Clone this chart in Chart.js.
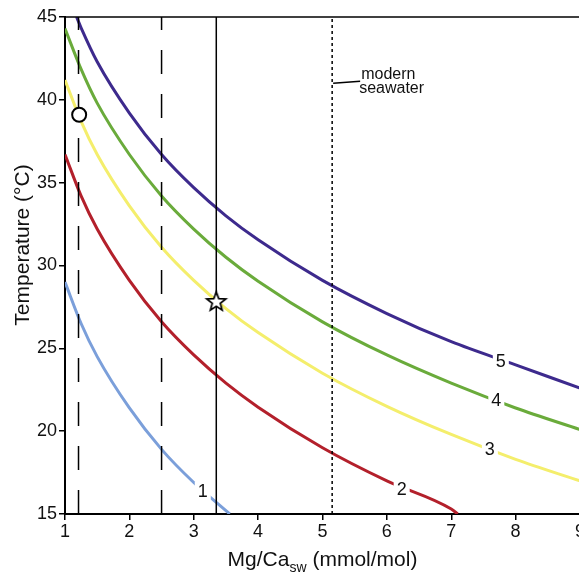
<!DOCTYPE html>
<html>
<head>
<meta charset="utf-8">
<script src="https://cdn.jsdelivr.net/npm/chart.js@4/dist/chart.umd.min.js"></script>
<style>
html,body{margin:0;padding:0;overflow:hidden;background:#fff;}
#wrap{width:600px;height:573px;}
</style>
</head>
<body>
<div id="wrap"><canvas id="c" width="600" height="573"></canvas></div>
<script>
// ---- data ----
const xTicks = [1, 2, 3, 4, 5, 6, 7, 8, 9];
const yTicks = [15, 20, 25, 30, 35, 40, 45];

const curve1X = [1, 1.25, 1.5, 2, 2.5, 3, 3.5, 3.56];
const curve1T = [29.0, 26.5, 24.5, 21.4, 18.9, 16.9, 15.2, 15.0];

const curve2X = [1, 1.25, 1.5, 2, 2.5, 3, 3.5, 4, 5, 6, 7, 7.1];
const curve2T = [36.7, 34.2, 32.2, 29.1, 26.6, 24.6, 22.9, 21.45, 19.0, 17.0, 15.3, 15.0];

const curve3X = [1, 1.25, 1.5, 2, 2.5, 3, 3.5, 4, 5, 6, 7, 8, 9];
const curve3T = [41.2, 38.7, 36.7, 33.6, 31.1, 29.1, 27.4, 25.95, 23.5, 21.5, 19.8, 18.3, 17.0];

const curve4X = [1, 1.25, 1.5, 2, 2.5, 3, 3.5, 4, 5, 6, 7, 8, 9];
const curve4T = [44.3, 41.85, 39.8, 36.7, 34.2, 32.2, 30.5, 29.05, 26.6, 24.6, 22.9, 21.4, 20.1];

const curve5X = [1.18, 1.25, 1.5, 2, 2.5, 3, 3.5, 4, 5, 6, 7, 8, 9];
const curve5T = [45.0, 44.35, 42.3, 39.2, 36.7, 34.7, 33.0, 31.55, 29.1, 27.1, 25.4, 24.0, 22.6];

const curveNames = ['1', '2', '3', '4', '5'];
const curveLabelX = [3.14, 6.23, 7.6, 7.7, 7.77];
const curveLabelT = [16.4, 16.5, 18.9, 21.85, 24.25];

const refLinesX = [1.21, 2.5, 3.35, 5.15];   // dashed, dashed, solid, dotted (modern seawater)
const circlePoint = [1.22, 39.1];
const starPoint = [3.35, 27.8];
const annoX = 5.15, annoT = 41.0;
const annoText = ['modern', 'seawater'];

// ---- styles ----
const colors = ['#7b9fda', '#b3202b', '#f4ee6c', '#6aab3b', '#3d2a8d'];
const refDashes = [[24, 20], [24, 20], [], [3, 3]];
const FONT = '"Liberation Sans", Arial, Helvetica, sans-serif';

const toPts = (xs, ys) => xs.map((v, i) => ({x: v, y: ys[i]}));
const curves = [[curve1X, curve1T], [curve2X, curve2T], [curve3X, curve3T], [curve4X, curve4T], [curve5X, curve5T]];

function makeStar() {
  const c = document.createElement('canvas');
  c.width = 26; c.height = 26;
  const g = c.getContext('2d');
  g.beginPath();
  for (let i = 0; i < 10; i++) {
    const r = i % 2 ? 4.2 : 10;
    const a = -Math.PI / 2 + i * Math.PI / 5;
    g.lineTo(13 + r * Math.cos(a), 13 + r * Math.sin(a));
  }
  g.closePath();
  g.fillStyle = '#fff'; g.fill();
  g.lineWidth = 1.7; g.strokeStyle = '#000'; g.stroke();
  return c;
}

const datasets = [];
curves.forEach((cv, i) => {
  datasets.push({
    type: 'line', data: toPts(cv[0], cv[1]), borderColor: colors[i], borderWidth: 3,
    pointRadius: 0, fill: false, cubicInterpolationMode: 'monotone', order: 3
  });
});
refLinesX.forEach((xv, i) => {
  datasets.push({
    type: 'line', data: [{x: xv, y: 15}, {x: xv, y: 45}], borderColor: '#000',
    borderWidth: 1.5, borderDash: refDashes[i], pointRadius: 0, fill: false, order: 2
  });
});
datasets.push({
  type: 'scatter', data: [{x: circlePoint[0], y: circlePoint[1]}], pointRadius: 7,
  pointBackgroundColor: '#fff', pointBorderColor: '#000', pointBorderWidth: 2, order: 1
});
datasets.push({
  type: 'scatter', data: [{x: starPoint[0], y: starPoint[1]}], pointStyle: makeStar(),
  pointRadius: 10, order: 0
});

const overlay = {
  id: 'overlay',
  afterDatasetsDraw(chart) {
    const {ctx, chartArea: a, scales: {x, y}} = chart;
    ctx.save();
    // top frame line
    ctx.strokeStyle = '#000'; ctx.lineWidth = 1.5;
    ctx.beginPath(); ctx.moveTo(a.left, a.top); ctx.lineTo(a.right + 5, a.top); ctx.stroke();
    // curve labels
    ctx.font = '18px ' + FONT;
    ctx.textAlign = 'center'; ctx.textBaseline = 'middle';
    curveNames.forEach((n, i) => {
      const px = x.getPixelForValue(curveLabelX[i]);
      const py = y.getPixelForValue(curveLabelT[i]);
      ctx.fillStyle = '#fff';
      ctx.fillRect(px - 8, py - 9, 16, 18);
      ctx.fillStyle = '#111';
      ctx.fillText(n, px, py + 1);
    });
    // modern seawater annotation
    const ax = x.getPixelForValue(annoX), ay = y.getPixelForValue(annoT);
    ctx.strokeStyle = '#000'; ctx.lineWidth = 1.3;
    ctx.beginPath(); ctx.moveTo(ax + 1, ay); ctx.lineTo(ax + 28, ay - 2); ctx.stroke();
    ctx.font = '16px ' + FONT; ctx.textAlign = 'left'; ctx.textBaseline = 'alphabetic';
    ctx.fillStyle = '#111';
    ctx.fillText(annoText[0], ax + 29, ay - 4);
    ctx.fillText(annoText[1], ax + 27, ay + 10);
    ctx.restore();
  },
  afterDraw(chart) {
    const {ctx, chartArea: a} = chart;
    ctx.save();
    ctx.fillStyle = '#111';
    // x title with subscript
    const big = '21px ' + FONT, small = '14px ' + FONT;
    const p1 = 'Mg/Ca', p2 = 'sw', p3 = ' (mmol/mol)';
    ctx.font = big; const w1 = ctx.measureText(p1).width, w3 = ctx.measureText(p3).width;
    ctx.font = small; const w2 = ctx.measureText(p2).width;
    const total = w1 + w2 + w3;
    let sx = (a.left + a.right) / 2 - total / 2;
    const base = 566;
    ctx.textAlign = 'left'; ctx.textBaseline = 'alphabetic';
    ctx.font = big; ctx.fillText(p1, sx, base); sx += w1;
    ctx.font = small; ctx.fillText(p2, sx, base + 6); sx += w2;
    ctx.font = big; ctx.fillText(p3, sx, base);
    // y title
    ctx.translate(23, 245);
    ctx.rotate(-Math.PI / 2);
    ctx.textAlign = 'center'; ctx.textBaseline = 'middle';
    ctx.font = big;
    ctx.fillText('Temperature (\u00B0C)', 0, 0);
    ctx.restore();
  }
};

new Chart(document.getElementById('c'), {
  data: {datasets},
  options: {
    responsive: false, animation: false,
    layout: {padding: {top: 17, right: 20, left: 0, bottom: 0}},
    plugins: {legend: {display: false}, tooltip: {enabled: false}},
    scales: {
      x: {
        type: 'linear', min: xTicks[0], max: xTicks[xTicks.length - 1],
        afterBuildTicks: s => { s.ticks = xTicks.map(v => ({value: v})); },
        afterFit: s => { s.height = 59; },
        border: {color: '#000', width: 2},
        grid: {display: true, drawOnChartArea: false, drawTicks: true, tickLength: 6, color: '#000', lineWidth: 1.5},
        ticks: {color: '#111', font: {size: 18, family: FONT}, padding: 1, maxRotation: 0}
      },
      y: {
        type: 'linear', min: yTicks[0], max: yTicks[yTicks.length - 1],
        afterBuildTicks: s => { s.ticks = yTicks.map(v => ({value: v})); },
        afterFit: s => { s.width = 65; },
        border: {color: '#000', width: 2},
        grid: {display: true, drawOnChartArea: false, drawTicks: true, tickLength: 6, color: '#000', lineWidth: 1.5},
        ticks: {color: '#111', font: {size: 18, family: FONT}, padding: 2}
      }
    }
  },
  plugins: [overlay]
});
</script>
</body>
</html>
